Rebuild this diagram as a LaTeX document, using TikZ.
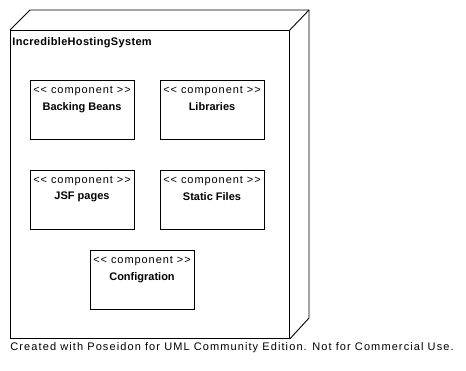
\documentclass[tikz,border=0pt]{standalone}
\usepackage{fontspec}
\setmainfont{Liberation Sans}
\usetikzlibrary{positioning}

\begin{document}
\begin{tikzpicture}[x=1pt,y=-1pt,line width=0.9pt,
  comp/.style={draw,minimum width=104pt,minimum height=59pt,inner sep=0pt},
  stereo/.style={font=\fontsize{11}{13}\selectfont\addfontfeatures{LetterSpace=8.5},inner sep=0pt},
  cname/.style={font=\fontsize{11}{13}\selectfont\bfseries,inner sep=0pt},
  footnote/.style={font=\fontsize{11}{13}\selectfont\addfontfeatures{LetterSpace=10},inner sep=0pt}]
\useasboundingbox (0,0) rectangle (466,371);
% node cube
\node[draw,minimum width=279pt,minimum height=308pt,inner sep=0pt,anchor=north west] (sys) at (10,30) {};
\draw (sys.north west) -- ++(20,-20) coordinate (bnw) -- ++(279,0) coordinate (bne) -- ++(0,308) coordinate (bse) -- (sys.south east);
\draw (sys.north east) -- (bne);
\node[cname,anchor=west,font=\fontsize{11}{13}\selectfont\bfseries\addfontfeatures{LetterSpace=3}] (sysname) at (12,42.5) {IncredibleHostingSystem};
% components
\node[comp] (bb) at (82,109.5) {};
\node[stereo,below=6.5pt of bb.north] (bbst) {<{}< component >{}>};
\node[cname,below=5.5pt of bbst] (bbname) {Backing Beans};
\node[comp] (lib) at (212,109.5) {};
\node[stereo,below=6.5pt of lib.north] (libst) {<{}< component >{}>};
\node[cname,below=5.5pt of libst] (libname) {Libraries};
\node[comp] (jsf) at (82,199.5) {};
\node[stereo,below=6.5pt of jsf.north] (jsfst) {<{}< component >{}>};
\node[cname,below=5.5pt of jsfst] (jsfname) {JSF pages};
\node[comp] (stat) at (212,199.5) {};
\node[stereo,below=6.5pt of stat.north] (statst) {<{}< component >{}>};
\node[cname,below=5.5pt of statst] (statname) {Static Files};
\node[comp] (conf) at (142,279.5) {};
\node[stereo,below=6.5pt of conf.north] (confst) {<{}< component >{}>};
\node[cname,below=5.5pt of confst] (confname) {Configration};
% footer
\node[footnote,anchor=west] (note) at (10,347.5) {Created with Poseidon for UML Community Edition. Not for Commercial Use.};
\end{tikzpicture}
\end{document}
